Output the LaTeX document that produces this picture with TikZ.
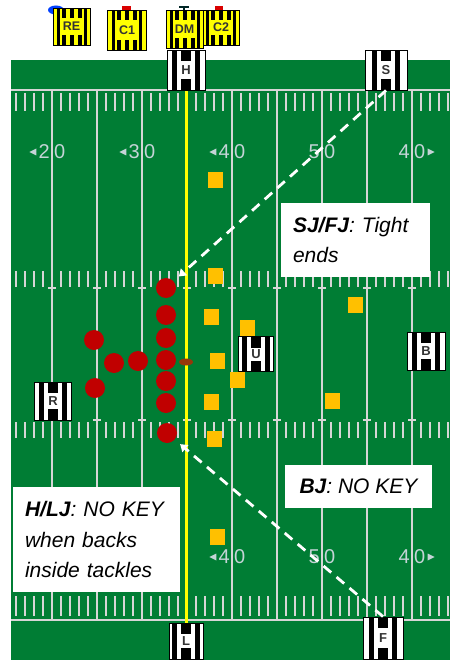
\documentclass[tikz,border=0pt]{standalone}
\usepackage{fontspec}
\setmainfont{Liberation Sans}
\usetikzlibrary{arrows.meta, shapes.geometric}
\definecolor{fieldgreen}{RGB}{0,125,52}
\definecolor{linegray}{RGB}{214,214,214}
\definecolor{numgray}{RGB}{196,212,214}
\definecolor{offred}{RGB}{192,0,0}
\definecolor{defgold}{RGB}{255,192,0}
\definecolor{ballbrown}{RGB}{150,55,10}
\definecolor{scrimyellow}{RGB}{255,255,0}
\tikzset{
  yardline/.style={draw=linegray, line width=2.2pt},
  hashmark/.style={draw=linegray, line width=2.4pt},
  scrimmage/.style={draw=scrimyellow, line width=2.6pt},
  yardnum/.style={text=numgray, font=\fontsize{20}{20}\selectfont, inner sep=0pt},
  player/.style={circle, fill=offred, minimum size=20pt, inner sep=0pt},
  defender/.style={rectangle, fill=defgold, minimum width=15pt, minimum height=16pt, inner sep=0pt},
  ball/.style={ellipse, fill=ballbrown, minimum width=14pt, minimum height=7pt, inner sep=0pt},
  official/.style={draw=black, line width=0.9pt, fill=white, minimum width=38pt, minimum height=38pt,
    inner sep=0pt, text=black!80, font=\fontsize{13}{13}\selectfont\bfseries,
    path picture={
      \fill[black] ([xshift=-14pt]path picture bounding box.north) rectangle ([xshift=-9pt]path picture bounding box.south);
      \fill[black] ([xshift=9pt]path picture bounding box.north) rectangle ([xshift=14pt]path picture bounding box.south);
      \fill[black] ([xshift=-5pt]path picture bounding box.north) rectangle ([xshift=5pt,yshift=-11pt]path picture bounding box.north);
      \fill[black] ([xshift=-5pt]path picture bounding box.south) rectangle ([xshift=5pt,yshift=11pt]path picture bounding box.south);
    }},
  crew/.style={draw=black, line width=0.9pt, fill=scrimyellow, minimum width=37pt, minimum height=37pt,
    inner sep=0pt, text=black!80, font=\fontsize{12.5}{12.5}\selectfont\bfseries,
    path picture={
      \fill[black] ([xshift=-15pt]path picture bounding box.north) rectangle ([xshift=-12pt]path picture bounding box.south);
      \fill[black] ([xshift=12pt]path picture bounding box.north) rectangle ([xshift=15pt]path picture bounding box.south);
      \foreach \s in {-8,0,8} {
        \fill[black] ([xshift={(\s-2)*1pt}]path picture bounding box.north) rectangle ([xshift={(\s+2)*1pt},yshift=-10pt]path picture bounding box.north);
        \fill[black] ([xshift={(\s-2)*1pt}]path picture bounding box.south) rectangle ([xshift={(\s+2)*1pt},yshift=10pt]path picture bounding box.south);
      }
    }},
  keybox/.style={fill=white, inner xsep=12pt, inner ysep=0pt, font=\fontsize{21}{30.5}\selectfont\itshape},
  keyline/.style={draw=white, line width=2.8pt, dash pattern=on 10pt off 7pt,
    -{Triangle[length=7pt, width=9pt]}, shorten >=7pt},
}
\begin{document}
\begin{tikzpicture}[x=1pt, y=-1pt]
    \useasboundingbox (0,0) rectangle (450,660);
    \clip (0,0) rectangle (450,660);
    % Field
    \fill[fieldgreen] (11,60) rectangle (450,660);
    \draw[yardline] (11,90) -- (450,90);
    \draw[yardline] (11,620) -- (450,620);
    \foreach \l in {52,97,...,412} \draw[yardline] (\l,90) -- (\l,620);
    \foreach \l in {52,97,...,412} {
        \draw[yardline] (\l-4,288) -- (\l+4,288);
        \draw[yardline] (\l-4,420) -- (\l+4,420);
    }
    % Hash marks
    \foreach \l in {7,52,...,412} \foreach \t in {9,18,27,36} {
        \draw[hashmark] (\l+\t,93) -- (\l+\t,111);
        \draw[hashmark] (\l+\t,271) -- (\l+\t,287);
        \draw[hashmark] (\l+\t,422) -- (\l+\t,438);
        \draw[hashmark] (\l+\t,596) -- (\l+\t,616);
    }
    % Yard numbers
    \foreach \x/\d/\n in {52/2/a, 142/3/b, 232/4/c, 322/5/d, 412/4/e} {
        \node[yardnum, anchor=east] (tl\n) at (\x-2,152) {\d};
        \node[yardnum, anchor=west] (tr\n) at (\x+2,152) {0};
    }
    \foreach \x/\d/\n in {232/4/c, 322/5/d, 412/4/e} {
        \node[yardnum, anchor=east] (bl\n) at (\x-2,557) {\d};
        \node[yardnum, anchor=west] (br\n) at (\x+2,557) {0};
    }
    \foreach \n in {tla, tlb, tlc, blc}
        \fill[numgray] ([xshift=-2pt,yshift=3.5pt]\n.west) -- ([xshift=-2pt,yshift=-3.5pt]\n.west) -- ([xshift=-9pt]\n.west) -- cycle;
    \foreach \n in {tre, bre}
        \fill[numgray] ([xshift=2pt,yshift=3.5pt]\n.east) -- ([xshift=2pt,yshift=-3.5pt]\n.east) -- ([xshift=9pt]\n.east) -- cycle;
    % Line of scrimmage
    \draw[scrimmage] (186.7,90) -- (186.7,623);
    % Offense
    \node[player] (te1) at (166,288) {}; \node[player] (lt) at (166,315) {}; \node[player] (lg) at (166,338) {};
    \node[player] (ctr) at (166,360) {}; \node[player] (rg) at (166,381) {}; \node[player] (rt) at (166,403) {};
    \node[player] (te2) at (167,433) {};
    \node[player] (wb1) at (94,340) {}; \node[player] (fb) at (114,363) {}; \node[player] (qb) at (138,361) {};
    \node[player] (wb2) at (95,388) {};
    \node[ball] (fball) at (186,362) {};
    % Defense
    \node[defender] (d1) at (215,180) {}; \node[defender] (d2) at (215,276) {}; \node[defender] (d3) at (211,317) {};
    \node[defender] (d4) at (247,328) {}; \node[defender] (d5) at (217,361) {}; \node[defender] (d6) at (237,380) {};
    \node[defender] (d7) at (211,402) {}; \node[defender] (d8) at (214,439) {}; \node[defender] (d9) at (355,305) {};
    \node[defender] (d10) at (332,401) {}; \node[defender] (d11) at (217,537) {};
    % Chain crew
    \fill[blue!75!cyan] (56,10) ellipse (8pt and 4.5pt);
    \fill[red!85!black] (122,6) rectangle (131,11);
    \fill[black!70!teal] (179,6) rectangle (189,8); \fill[black!70!teal] (183,8) rectangle (185,11);
    \fill[red!85!black] (215,6) rectangle (223,11);
    \node[crew, minimum width=37pt, minimum height=37pt] (RE) at (71.5,26.5) {RE};
    \node[crew, minimum width=39pt, minimum height=40pt] (C1) at (127,30) {C1};
    \node[crew, minimum width=37pt, minimum height=38pt] (DM) at (184.5,29) {DM};
    \node[crew, minimum width=36pt, minimum height=35pt] (C2) at (221,27.5) {C2};
    % Officials
    \node[official, minimum height=40pt] (H) at (186,70) {H};
    \node[official, minimum width=42pt, minimum height=40pt] (S) at (386,70) {S};
    \node[official, minimum width=34pt, minimum height=36pt] (L) at (186,641) {L};
    \node[official, minimum width=40pt, minimum height=42pt] (F) at (383,638) {F};
    \node[official, minimum width=35pt, minimum height=35pt] (U) at (256,354) {U};
    \node[official] (B) at (426,351) {B};
    \node[official, minimum width=37pt] (R) at (53,401) {R};
    % Keys
    \draw[keyline] (S.south) -- (te1);
    \draw[keyline] (F.north) -- (te2);
    \node[keybox, minimum width=149pt, minimum height=74pt, text width=125pt, align=left] (sjfj) at (355.5,240) {\textbf{SJ/FJ}: Tight\\ends};
    \node[keybox, minimum width=147pt, minimum height=43pt] (bj) at (358.5,486.5) {\textbf{BJ}: NO KEY};
    \node[keybox, minimum width=167pt, minimum height=105pt, text width=143pt, align=left] (hlj) at (96.5,539.5) {\textbf{H/LJ}: NO KEY\\when backs\\inside tackles};
\end{tikzpicture}
\end{document}
